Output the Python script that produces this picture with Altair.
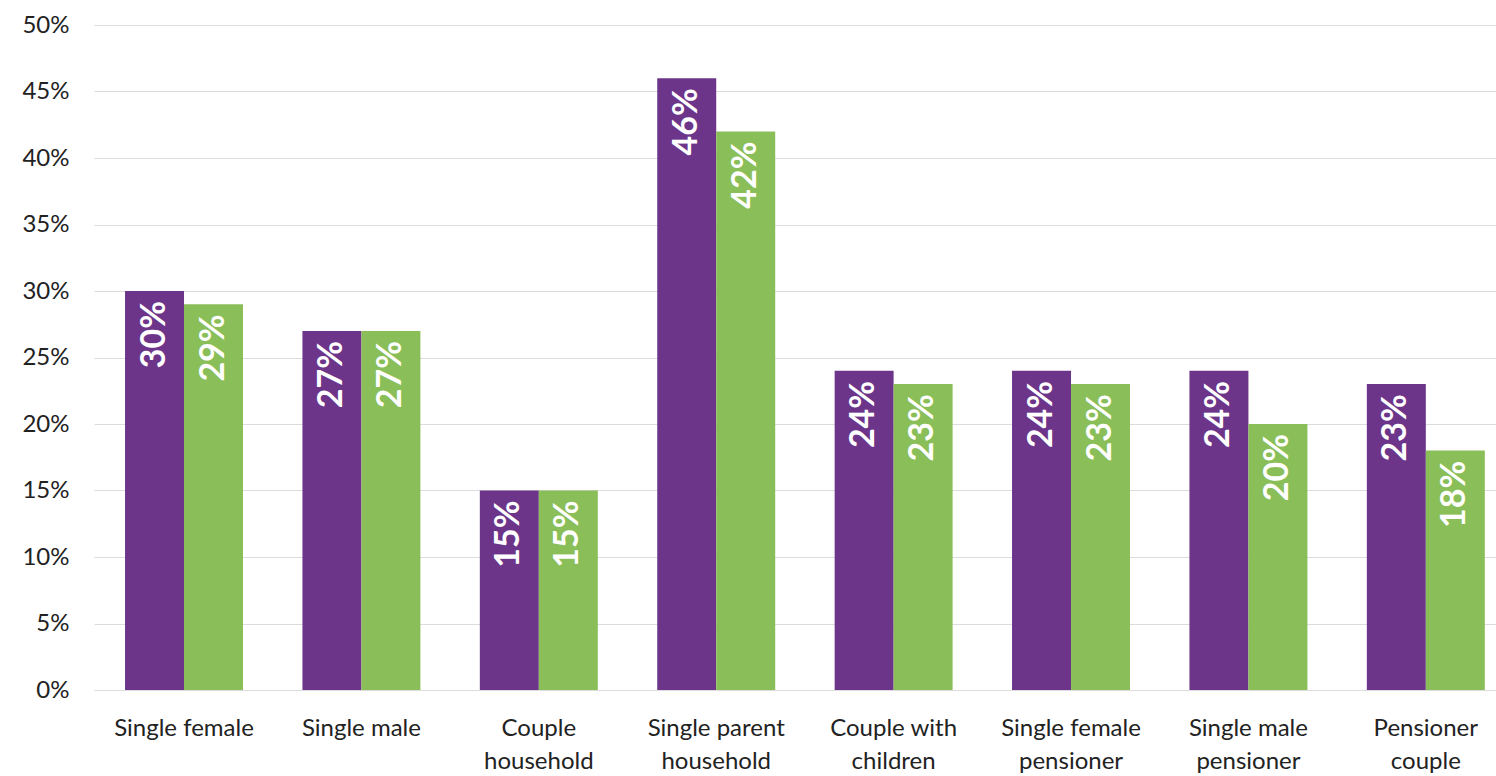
import altair as alt
import pandas as pd

categories = [
    "Single female",
    "Single male",
    "Couple\nhousehold",
    "Single parent\nhousehold",
    "Couple with\nchildren",
    "Single female\npensioner",
    "Single male\npensioner",
    "Pensioner\ncouple",
]
series_names = ["Series 1", "Series 2"]
series1_values = [30, 27, 15, 46, 24, 24, 24, 23]
series2_values = [29, 27, 15, 42, 23, 23, 20, 18]
series_colors = ["#6C358A", "#8ABE58"]
y_ticks = [0, 5, 10, 15, 20, 25, 30, 35, 40, 45, 50]

rows = []
for cat, v1, v2 in zip(categories, series1_values, series2_values):
    rows.append({"category": cat, "series": series_names[0], "value": v1})
    rows.append({"category": cat, "series": series_names[1], "value": v2})
df = pd.DataFrame(rows)

FONT = "Lato"

x_enc = alt.X(
    "category:N",
    sort=categories,
    scale=alt.Scale(paddingInner=0.335, paddingOuter=0.119, align=0.735),
    axis=alt.Axis(
        title=None,
        labelAngle=0,
        labelExpr="split(datum.label, '\\n')",
        labelFontSize=24,
        labelLineHeight=33,
        labelPadding=26,
        labelColor="#222222",
        ticks=False,
        domain=False,
        grid=False,
    ),
)
xoff_enc = alt.XOffset(
    "series:N", sort=series_names, scale=alt.Scale(paddingInner=0, paddingOuter=0)
)
y_enc = alt.Y(
    "value:Q",
    scale=alt.Scale(domain=[0, 50], nice=False),
    axis=alt.Axis(
        title=None,
        values=y_ticks,
        labelExpr="datum.value + '%'",
        labelFontSize=24,
        labelPadding=25,
        labelColor="#222222",
        ticks=False,
        domain=False,
        gridColor="#dcdcdc",
        gridWidth=1.2,
    ),
)
color_enc = alt.Color(
    "series:N",
    sort=series_names,
    scale=alt.Scale(domain=series_names, range=series_colors),
    legend=None,
)

base = alt.Chart(df)

bars = base.mark_bar().encode(x=x_enc, xOffset=xoff_enc, y=y_enc, color=color_enc)

labels = (
    base.transform_calculate(label="datum.value + '%'")
    .mark_text(
        angle=270,
        align="right",
        baseline="middle",
        dx=-10,
        fontSize=34,
        fontWeight="bold",
        font=FONT,
        color="white",
    )
    .encode(x=x_enc, xOffset=xoff_enc, y=y_enc, text="label:N")
)

chart = (
    alt.layer(bars, labels)
    .properties(
        width=1402,
        height=665,
        autosize=alt.AutoSizeParams(type="none"),
        padding={"left": 94, "top": 25, "right": 0, "bottom": 86},
    )
    .configure_view(stroke=None)
    .configure_axis(labelFont=FONT)
)

chart.save("out.html", embed_options={"renderer": "svg", "actions": False})
